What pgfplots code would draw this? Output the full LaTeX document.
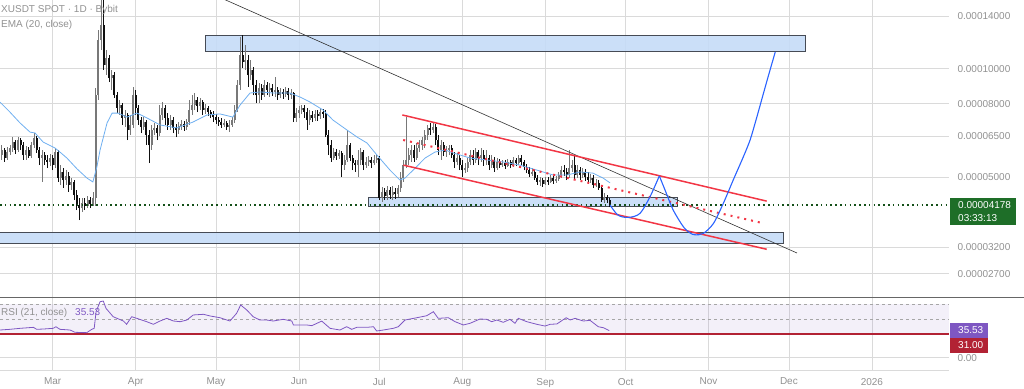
\documentclass[border=0pt]{standalone}
\usepackage{fontspec}
\setmainfont{Liberation Sans}
\usepackage{pgfplots}
\usepackage{pgfplotstable}
\pgfplotsset{compat=1.18}
\definecolor{gridc}{RGB}{218,218,218}
\definecolor{txtg}{RGB}{145,145,145}
\definecolor{upc}{RGB}{120,120,120}
\definecolor{dnc}{RGB}{15,15,15}
\definecolor{emac}{RGB}{110,175,240}
\definecolor{boxf}{RGB}{197,220,247}
\definecolor{boxd}{RGB}{70,75,85}
\definecolor{redl}{RGB}{242,54,69}
\definecolor{projc}{RGB}{41,98,255}
\definecolor{dgreen}{RGB}{20,80,25}
\definecolor{lblgreen}{RGB}{30,110,40}
\definecolor{rsic}{RGB}{126,87,194}
\definecolor{rsired}{RGB}{178,34,52}

\pgfplotstableread{
d o h l c
-19 5.76 6.14 5.58 5.95
-18 5.95 6.02 5.51 5.65
-17 5.65 6.06 5.58 5.87
-16 5.87 6.14 5.76 6.02
-15 6.02 6.46 5.87 6.26
-14 6.26 6.34 5.80 5.95
-13 5.95 6.46 5.87 6.34
-12 6.34 6.42 5.95 6.14
-11 6.14 6.26 5.58 5.76
-10 5.76 6.10 5.58 5.95
-9 5.95 6.06 5.65 5.72
-8 5.72 6.26 5.65 6.14
-7 6.14 6.63 6.02 6.42
-6 6.42 6.50 5.84 5.95
-5 5.95 6.06 5.40 5.65
-4 5.65 5.95 4.85 5.76
-3 5.76 5.87 5.40 5.58
-2 5.58 5.76 5.30 5.51
-1 5.51 5.80 5.37 5.65
0 5.65 5.76 5.23 5.40
1 5.40 6.02 5.30 5.87
2 5.87 5.95 4.85 4.97
3 4.97 5.40 4.76 5.17
4 5.17 5.30 4.67 4.91
5 4.91 5.23 4.76 5.04
6 5.04 5.17 4.55 4.76
7 4.76 4.97 4.61 4.85
8 4.85 4.91 4.32 4.46
9 4.46 4.61 4.05 4.18
10 4.18 4.38 3.80 4.10
11 4.10 4.38 4.00 4.24
12 4.24 4.38 4.05 4.16
13 4.16 4.43 4.10 4.32
14 4.32 4.41 4.10 4.21
15 4.21 4.55 4.16 4.38
16 4.38 8.84 4.16 8.45
17 8.45 12.80 8.19 12.01
18 12.01 17.07 11.27 13.22
19 13.22 16.01 9.92 10.24
20 10.24 11.27 9.60 10.71
21 10.71 10.91 9.18 9.42
22 9.42 9.92 8.73 9.60
23 9.60 9.79 8.29 8.45
24 8.45 8.62 7.53 7.78
25 7.78 8.19 7.44 7.93
26 7.93 8.03 6.98 7.30
27 7.30 7.68 6.89 7.44
28 7.44 7.53 6.34 6.76
29 6.76 7.44 6.55 6.98
30 6.98 8.90 6.85 8.45
31 8.45 8.73 7.44 7.78
32 7.78 7.93 6.98 7.20
33 7.20 7.34 6.63 6.89
34 6.89 7.34 6.76 7.11
35 7.11 7.20 6.14 6.55
36 6.55 6.76 5.47 6.14
37 6.14 6.98 5.95 6.76
38 6.76 7.07 6.55 6.85
39 6.85 6.98 6.34 6.63
40 6.63 7.93 6.50 7.44
41 7.44 8.08 7.20 7.78
42 7.78 7.93 6.98 7.30
43 7.30 7.53 6.76 6.98
44 6.98 7.44 6.76 7.20
45 7.20 7.34 6.63 6.85
46 6.85 7.02 6.46 6.76
47 6.76 7.11 6.59 6.93
48 6.93 7.20 6.76 7.02
49 7.02 7.16 6.72 6.89
50 6.89 7.25 6.76 7.11
51 7.11 8.19 6.98 7.68
52 7.68 8.45 7.44 7.93
53 7.93 8.56 7.68 8.19
54 8.19 8.34 7.58 7.88
55 7.88 8.29 7.68 8.08
56 8.08 8.19 7.44 7.68
57 7.68 7.98 7.49 7.78
58 7.78 7.88 7.39 7.58
59 7.58 7.68 7.30 7.44
60 7.44 7.63 7.11 7.34
61 7.34 7.49 7.02 7.20
62 7.20 7.34 6.93 7.11
63 7.11 7.30 6.85 6.98
64 6.98 7.25 6.89 7.07
65 7.07 7.16 6.76 6.89
66 6.89 7.20 6.67 6.98
67 6.98 7.34 6.89 7.20
68 7.20 7.93 7.07 7.68
69 7.68 9.30 7.58 9.01
70 9.01 12.24 8.73 10.91
71 10.91 12.40 10.04 10.44
72 10.44 11.63 9.92 10.57
73 10.57 10.91 8.90 9.60
74 9.60 10.57 9.30 9.92
75 9.92 10.11 8.45 9.01
76 9.01 9.30 8.03 8.45
77 8.45 9.13 8.03 8.84
78 8.84 9.07 8.19 8.45
79 8.45 9.30 8.34 9.01
80 9.01 9.18 8.45 8.73
81 8.73 9.13 8.34 8.84
82 8.84 9.07 8.40 8.62
83 8.62 9.48 8.34 8.73
84 8.73 8.90 8.19 8.45
85 8.45 8.84 8.29 8.62
86 8.62 8.78 8.24 8.51
87 8.51 8.90 8.34 8.67
88 8.67 8.84 8.19 8.45
89 8.45 8.78 8.24 8.56
90 8.56 8.62 7.11 7.30
91 7.30 7.78 7.11 7.53
92 7.53 7.88 7.30 7.68
93 7.68 7.93 7.49 7.78
94 7.78 7.93 7.30 7.58
95 7.58 7.78 6.76 7.20
96 7.20 7.68 6.98 7.44
97 7.44 7.63 7.11 7.30
98 7.30 7.68 7.16 7.49
99 7.49 7.68 7.16 7.39
100 7.39 7.78 7.25 7.58
101 7.58 7.73 7.30 7.49
102 7.49 7.68 6.46 6.55
103 6.55 6.76 5.76 6.14
104 6.14 6.34 5.51 5.65
105 5.65 6.02 5.58 5.87
106 5.87 5.99 5.58 5.72
107 5.72 5.95 5.62 5.84
108 5.84 5.91 5.00 5.40
109 5.40 5.76 5.23 5.58
110 5.58 6.76 5.51 6.14
111 6.14 6.22 5.54 5.65
112 5.65 5.76 5.23 5.47
113 5.47 5.58 5.17 5.40
114 5.40 5.95 5.00 5.58
115 5.58 6.02 5.40 5.87
116 5.87 5.95 5.23 5.40
117 5.40 5.69 5.30 5.51
118 5.51 5.72 5.37 5.58
119 5.58 5.69 5.30 5.47
120 5.47 5.76 5.40 5.58
121 5.58 5.76 5.47 5.65
122 5.65 5.72 4.32 4.38
123 4.38 4.70 4.27 4.55
124 4.55 4.67 4.32 4.43
125 4.43 4.73 4.32 4.61
126 4.61 4.70 4.35 4.46
127 4.46 4.73 4.32 4.55
128 4.55 4.67 4.35 4.49
129 4.49 4.76 4.41 4.67
130 4.67 5.17 4.55 4.97
131 4.97 5.58 4.85 5.40
132 5.40 7.34 5.30 5.58
133 5.58 6.02 5.40 5.76
134 5.76 6.14 5.51 5.95
135 5.95 6.14 5.51 5.65
136 5.65 6.22 5.58 6.02
137 6.02 6.34 5.87 6.14
138 6.14 6.46 5.95 6.34
139 6.34 6.76 6.02 6.55
140 6.55 6.98 6.34 6.85
141 6.85 7.07 6.55 6.76
142 6.76 7.07 6.63 6.89
143 6.89 7.02 6.14 6.34
144 6.34 6.55 5.76 5.95
145 5.95 6.34 5.58 6.14
146 6.14 6.26 5.72 5.87
147 5.87 6.10 5.69 5.95
148 5.95 6.14 5.76 6.02
149 6.02 6.14 5.65 5.76
150 5.76 5.87 5.30 5.51
151 5.51 5.84 5.40 5.65
152 5.65 5.76 5.23 5.40
153 5.40 5.58 5.00 5.23
154 5.23 5.47 5.13 5.30
155 5.30 5.65 5.17 5.51
156 5.51 5.95 5.40 5.76
157 5.76 5.95 5.40 5.58
158 5.58 6.02 5.47 5.87
159 5.87 5.95 5.40 5.65
160 5.65 6.02 5.51 5.76
161 5.76 5.95 5.37 5.58
162 5.58 5.95 5.40 5.65
163 5.65 5.76 5.23 5.40
164 5.40 5.76 5.30 5.58
165 5.58 5.69 5.17 5.30
166 5.30 5.65 5.23 5.51
167 5.51 5.62 5.30 5.40
168 5.40 5.58 5.34 5.47
169 5.47 5.58 5.27 5.37
170 5.37 5.62 5.34 5.51
171 5.51 5.58 5.30 5.40
172 5.40 5.69 5.34 5.58
173 5.58 5.65 5.37 5.47
174 5.47 5.76 5.40 5.65
175 5.65 5.76 5.40 5.51
176 5.51 5.58 5.23 5.34
177 5.34 5.44 5.13 5.23
178 5.23 5.34 5.00 5.10
179 5.10 5.30 5.04 5.17
180 5.17 5.23 4.91 4.97
181 4.97 5.07 4.76 4.85
182 4.85 5.00 4.73 4.91
183 4.91 4.97 4.70 4.79
184 4.79 5.00 4.76 4.91
185 4.91 5.00 4.76 4.85
186 4.85 5.07 4.82 4.97
187 4.97 5.04 4.79 4.88
188 4.88 5.04 4.82 4.94
189 4.94 5.17 4.88 5.07
190 5.07 5.37 4.97 5.23
191 5.23 5.40 5.04 5.17
192 5.17 5.30 4.91 5.07
193 5.07 5.95 4.97 5.30
194 5.30 5.58 5.17 5.40
195 5.40 5.76 4.91 5.07
196 5.07 5.40 4.97 5.23
197 5.23 5.34 4.91 5.07
198 5.07 5.30 4.97 5.17
199 5.17 5.27 4.88 5.00
200 5.00 5.17 4.79 4.91
201 4.91 5.10 4.82 4.97
202 4.97 5.07 4.67 4.76
203 4.76 4.94 4.70 4.82
204 4.82 4.91 4.61 4.67
205 4.67 4.76 4.27 4.32
206 4.32 4.52 4.24 4.41
207 4.41 4.46 4.24 4.32
208 4.32 4.38 4.13 4.18
}\candles

\pgfplotstableread{
d v
-19.7 8.08
-16 7.58
-12.2 7.07
-8.5 6.67
-6.6 6.63
-3.6 6.26
0.9 6.02
2.7 5.87
5.3 5.65
9.1 5.27
12.8 4.97
15 4.85
16.5 5.34
17.7 5.95
20.3 7.07
22.2 7.53
24.4 7.53
27.8 7.34
31.5 7.53
35.2 7.30
40.1 6.98
46.4 6.85
52.4 7.11
57.6 7.44
62.5 7.49
67.3 7.34
70 7.93
73.7 8.56
77.4 8.62
82.3 8.56
88.6 8.56
92.4 8.34
96.1 8.08
101 7.68
104.7 7.20
109.9 6.76
113.7 6.46
117.4 6.22
121.1 5.76
126 5.23
129.7 4.91
131.6 4.97
135.4 5.30
139.1 5.65
142.8 5.87
146.6 5.95
149.5 5.84
155.9 5.65
162.2 5.58
168.2 5.51
174.5 5.40
180.9 5.23
186.9 5.07
192.1 5.07
197 5.17
201.8 5.13
205.6 4.97
208.2 4.82
}\ema

\pgfplotstableread{
d v
-19.7 36.3
-16 37.2
-12.2 38.5
-7.2 39.8
-6 37.2
-3.5 37.6
0.2 38.5
1.2 40.6
2.7 37.2
6.5 36.3
8.3 33.3
12.7 32.8
14.6 37.2
15.5 38.5
16.2 60.3
17.7 73.4
18.9 74.3
19.9 64.7
22.6 53.7
26.4 48.1
27.6 43.8
29.5 53.7
31.4 51.6
35.1 47.2
37.6 43.8
40.1 48.1
42.6 51.6
45.1 48.1
47.6 47.2
50.1 49.4
52.5 56.0
56.3 56.9
58.8 54.7
62.5 52.4
66.2 48.1
68.7 58.2
70.2 69.1
72.5 62.5
74.9 53.7
77.4 49.4
79.9 49.4
82.4 48.1
86.1 50.3
89.3 48.1
89.9 42.9
94.9 42.9
96.8 42.0
100.5 48.0
103.6 38.5
107.3 36.3
109.8 40.6
111.7 37.2
113.6 39.8
117.3 39.8
119.8 40.6
121.0 35.0
123.5 36.3
127.2 38.5
129.1 40.6
131.6 49.4
136.0 52.4
139.7 55.0
142.2 60.3
144.0 51.6
147.8 52.4
150.3 47.2
153.4 42.9
155.9 45.1
159.6 50.7
162.1 50.3
164.0 47.2
165.9 49.4
168.3 46.4
170.8 50.3
172.7 45.1
173.9 51.6
177.1 47.2
180.8 43.8
183.9 41.5
185.8 43.8
188.3 44.2
191.8 52.4
193.3 49.4
195.1 51.6
198.2 48.1
200.7 49.0
203.8 40.6
205.7 39.3
207.9 35.53
}\rsi

\pgfplotsset{
  candle/.style n args={2}{draw=none, mark=none,
    error bars/y dir=plus, error bars/y explicit, error bars/error mark=none,
    error bars/error bar style={line width=#1, draw=#2, solid}},
}

\begin{document}
\begin{tikzpicture}
\path[use as bounding box] (0pt,0pt) rectangle (1024pt,-388pt);
\begin{axis}[
  at={(0pt,0pt)}, anchor=north west,
  width=949pt, height=297pt, scale only axis,
  xmin=-19.69, xmax=334.8,
  ymode=log, ymin=2.325, ymax=15.509,
  axis line style={draw=none},
  major tick length=0pt, minor tick length=0pt,
  xtick={0,31,61,92,122,153,184,214,245,275,306},
  xticklabel style={text opacity=0, opacity=0},
  ytick={2.7,3.2,5,6.5,8,10,14},
  yticklabels={0.00002700,0.00003200,0.00005000,0.00006500,0.00008000,0.00010000,0.00014000},
  yticklabel pos=right,
  yticklabel style={anchor=west, xshift=5pt, font=\fontsize{10}{12}\selectfont, text=txtg},
  yminorticks=false,
  grid=major, major grid style={draw=gridc, line width=0.7pt},
]
% zones
\addplot[draw=boxd, fill=boxf, fill opacity=0.9, line width=0.8pt, mark=none] coordinates {(56.9,12.40) (281.0,12.40) (281.0,11.20) (56.9,11.20)} -- cycle;
\addplot[draw=boxd, fill=boxf, fill opacity=0.9, line width=0.8pt, mark=none] coordinates {(117.9,4.40) (233.2,4.40) (233.2,4.16) (117.9,4.16)} -- cycle;
\addplot[draw=boxd, fill=boxf, fill opacity=0.9, line width=0.8pt, mark=none] coordinates {(-21,3.507) (272.9,3.507) (272.9,3.277) (-21,3.277)} -- cycle;
% candle wicks
\addplot[candle={0.7pt}{upc}, restrict expr to domain={\thisrow{c}-\thisrow{o}}{0.00001:100}]
  table[x=d, y=l, y error plus expr=\thisrow{h}-\thisrow{l}] {\candles};
\addplot[candle={0.7pt}{dnc}, restrict expr to domain={\thisrow{c}-\thisrow{o}}{-100:0}]
  table[x=d, y=l, y error plus expr=\thisrow{h}-\thisrow{l}] {\candles};
% candle bodies
\addplot[candle={2pt}{upc}, restrict expr to domain={\thisrow{c}-\thisrow{o}}{0.00001:100}]
  table[x=d, y=o, y error plus expr=\thisrow{c}-\thisrow{o}] {\candles};
\addplot[candle={2pt}{dnc}, restrict expr to domain={\thisrow{c}-\thisrow{o}}{-100:0}]
  table[x=d, y=c, y error plus expr=\thisrow{o}-\thisrow{c}] {\candles};
% EMA
\addplot[emac, line width=0.8pt, mark=none] table[x=d, y=v] {\ema};
% current price line
\addplot[dgreen, line width=1.6pt, dash pattern=on 1.6pt off 3.2pt, mark=none] coordinates {(-19.69,4.178) (334.8,4.178)};
% trend line
\addplot[black!80, line width=0.6pt, mark=none] coordinates {(60,16.06) (278.0,3.08)};
% channel
\addplot[redl, line width=1.5pt, mark=none] coordinates {(130.6,7.44) (266.7,4.29)};
\addplot[redl, line width=1.5pt, mark=none] coordinates {(131.0,5.40) (266.7,3.154)};
\addplot[redl, line width=2pt, dash pattern=on 2pt off 5pt, mark=none] coordinates {(130.9,6.34) (265.5,3.724)};
% projection
\addplot[projc, line width=1.1pt, smooth, mark=none] coordinates {(208.2,4.18) (210.7,3.95) (212.7,3.88) (215.6,3.87) (219.4,3.97) (223.1,4.41) (226.6,5.04)};
\addplot[projc, line width=1.1pt, smooth, mark=none] coordinates {(226.6,5.04) (228.7,4.61) (231.8,4.05) (235.6,3.64) (238.1,3.50) (239.9,3.46) (243.0,3.49) (246.8,3.72) (250.5,4.23) (254.2,4.91) (258.0,5.70) (260.5,6.34) (262.7,7.20) (265.0,8.29) (267.2,9.48) (269.9,11.13)};
\end{axis}

\begin{axis}[
  at={(0pt,-298pt)}, anchor=north west,
  width=949pt, height=72pt, scale only axis,
  xmin=-19.69, xmax=334.8, ymin=-16.12, ymax=78.24,
  axis line style={draw=none},
  major tick length=0pt,
  xtick={0,31,61,92,122,153,184,214,245,275,306},
  xticklabels={Mar,Apr,May,Jun,Jul,Aug,Sep,Oct,Nov,Dec,2026},
  xticklabel style={font=\fontsize{10}{12}\selectfont, text=txtg, yshift=-4.5pt},
  ytick={0}, yticklabels={0.00},
  yticklabel pos=right,
  yticklabel style={anchor=west, xshift=5pt, font=\fontsize{10}{12}\selectfont, text=txtg},
  grid=major, major grid style={draw=gridc, line width=0.7pt},
]
\addplot[draw=none, fill=rsic, fill opacity=0.09, mark=none] coordinates {(-19.69,30) (334.8,30) (334.8,70) (-19.69,70)} -- cycle;
\addplot[gray!70, dashed, line width=0.6pt, mark=none] coordinates {(-19.69,70) (334.8,70)};
\addplot[gray!70, dashed, line width=0.6pt, mark=none] coordinates {(-19.69,50) (334.8,50)};
\addplot[rsired, line width=2pt, mark=none] coordinates {(-19.69,31) (334.8,31)};
\addplot[rsic, line width=0.8pt, mark=none] table[x=d, y=v] {\rsi};
\end{axis}

% panel separators
\draw[draw=black!60, line width=1pt] (0pt,-297.5pt) -- (1024pt,-297.5pt);
\draw[draw=gridc, line width=0.6pt] (0pt,-370pt) -- (949pt,-370pt);

% legends
\node[anchor=west, inner sep=0pt, font=\fontsize{10}{12}\selectfont, text=txtg] at (1pt,-9.5pt) {XUSDT SPOT · 1D · Bybit};
\node[anchor=west, inner sep=0pt, font=\fontsize{10}{12}\selectfont, text=txtg] at (1pt,-24.5pt) {EMA (20, close)};
\node[anchor=west, inner sep=0pt, font=\fontsize{10}{12}\selectfont, text=txtg] at (1pt,-312.5pt) {RSI (21, close)};
\node[anchor=west, inner sep=0pt, font=\fontsize{10}{12}\selectfont, text=rsic] at (75pt,-312.5pt) {35.53};

% price labels
\fill[lblgreen] (950pt,-197.7pt) rectangle (1016pt,-225pt);
\node[anchor=west, inner sep=0pt, font=\fontsize{10}{12}\selectfont, text=white] at (958pt,-205pt) {0.00004178};
\node[anchor=west, inner sep=0pt, font=\fontsize{10}{12}\selectfont, text=white] at (958pt,-218.3pt) {03:33:13};
\fill[rsic] (950pt,-323.3pt) rectangle (988pt,-337.7pt);
\node[anchor=west, inner sep=0pt, font=\fontsize{10}{12}\selectfont, text=white] at (958pt,-330.5pt) {35.53};
\fill[rsired] (950pt,-338.3pt) rectangle (988pt,-352.7pt);
\node[anchor=west, inner sep=0pt, font=\fontsize{10}{12}\selectfont, text=white] at (958pt,-345.5pt) {31.00};
\end{tikzpicture}
\end{document}
